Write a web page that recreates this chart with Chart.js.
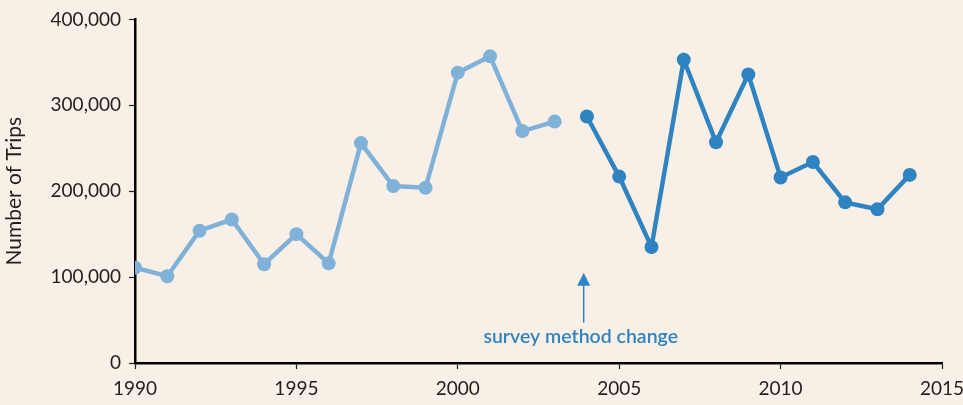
<!DOCTYPE html>
<html>
<head>
<meta charset="utf-8">
<script src="https://cdn.jsdelivr.net/npm/chart.js@4/dist/chart.umd.min.js"></script>
<style>
  html, body { margin: 0; padding: 0; background: #f8f0e6; }
  #wrap { width: 963px; height: 405px; position: relative; }
</style>
</head>
<body>
<div id="wrap"><canvas id="tripsChart"></canvas></div>
<script>
// trips per year, old survey method
const yearsOld = [1990, 1991, 1992, 1993, 1994, 1995, 1996, 1997, 1998, 1999, 2000, 2001, 2002, 2003];
const tripsOld = [111000, 101000, 154000, 167000, 115000, 150000, 116000, 256000, 206000, 204000, 338000, 357000, 270000, 281000];

// trips per year, new survey method
const yearsNew = [2004, 2005, 2006, 2007, 2008, 2009, 2010, 2011, 2012, 2013, 2014];
const tripsNew = [287000, 217000, 135000, 353000, 257000, 336000, 216000, 234000, 187000, 179000, 219000];

const xTicks = [1990, 1995, 2000, 2005, 2010, 2015];
const yTicks = [0, 100000, 200000, 300000, 400000];

const noteText = 'survey method change';
const noteYear = 2003.9;

const lightBlue = '#80b1d9';
const darkBlue = '#2f83c1';
const ink = '#231f20';

const toPoints = (xs, ys) => xs.map((x, i) => ({ x: x, y: ys[i] }));

// arrow + label under the gap between the two series
const notePlugin = {
    id: 'note',
    afterDatasetsDraw(chart) {
        const { ctx, scales } = chart;
        const x = scales.x.getPixelForValue(noteYear);
        const yTip = scales.y.getPixelForValue(105000);
        const yBase = scales.y.getPixelForValue(47000);
        const yText = scales.y.getPixelForValue(31000);
        ctx.save();
        ctx.strokeStyle = darkBlue;
        ctx.fillStyle = darkBlue;
        ctx.lineWidth = 1.5;
        ctx.beginPath();
        ctx.moveTo(x, yBase);
        ctx.lineTo(x, yTip + 8);
        ctx.stroke();
        ctx.beginPath();
        ctx.moveTo(x, yTip);
        ctx.lineTo(x - 6.5, yTip + 13);
        ctx.lineTo(x + 6.5, yTip + 13);
        ctx.closePath();
        ctx.fill();
        ctx.font = '600 19.5px Lato';
        ctx.textAlign = 'center';
        ctx.textBaseline = 'middle';
        ctx.fillText(noteText, x - 3, yText);
        ctx.restore();
    }
};

const ctx = document.getElementById('tripsChart');

new Chart(ctx, {
    type: 'line',
    data: {
        datasets: [
            {
                label: 'old method',
                data: toPoints(yearsOld, tripsOld),
                borderColor: lightBlue,
                backgroundColor: lightBlue,
                borderWidth: 4.5,
                pointRadius: 7,
                pointHoverRadius: 7,
                pointBorderWidth: 0,
                tension: 0
            },
            {
                label: 'new method',
                data: toPoints(yearsNew, tripsNew),
                borderColor: darkBlue,
                backgroundColor: darkBlue,
                borderWidth: 4.5,
                pointRadius: 7,
                pointHoverRadius: 7,
                pointBorderWidth: 0,
                tension: 0
            }
        ]
    },
    options: {
        responsive: true,
        maintainAspectRatio: false,
        animation: false,
        layout: { padding: { top: 9, right: 0, bottom: 0, left: 0 } },
        plugins: {
            legend: { display: false },
            tooltip: { enabled: false }
        },
        scales: {
            x: {
                type: 'linear',
                min: 1990,
                max: 2015,
                afterBuildTicks: (scale) => { scale.ticks = xTicks.map(v => ({ value: v })); },
                afterFit: (scale) => {
                    scale.height = 42;
                    scale.paddingLeft = 0;
                    scale.paddingRight = 21;
                },
                ticks: {
                    color: ink,
                    font: { family: 'Lato', size: 19 },
                    padding: 8,
                    maxRotation: 0,
                    callback: (v) => String(v)
                },
                grid: {
                    drawOnChartArea: false,
                    drawTicks: true,
                    tickLength: 6,
                    tickColor: ink,
                    tickWidth: 1.2
                },
                border: { color: '#000', width: 2.5 }
            },
            y: {
                min: 0,
                max: 400000,
                afterBuildTicks: (scale) => { scale.ticks = yTicks.map(v => ({ value: v })); },
                afterFit: (scale) => { scale.width = 135; },
                ticks: {
                    color: ink,
                    font: { family: 'Lato', size: 19 },
                    padding: 8,
                    callback: (v) => v.toLocaleString('en-US')
                },
                title: {
                    display: true,
                    text: 'Number of Trips',
                    color: ink,
                    font: { family: 'Lato', size: 21 },
                    padding: { top: 2, bottom: 0 }
                },
                grid: {
                    drawOnChartArea: false,
                    drawTicks: true,
                    tickLength: 6,
                    tickColor: ink,
                    tickWidth: 1.2
                },
                border: { color: '#000', width: 2.5 }
            }
        }
    },
    plugins: [notePlugin]
});
</script>
</body>
</html>
